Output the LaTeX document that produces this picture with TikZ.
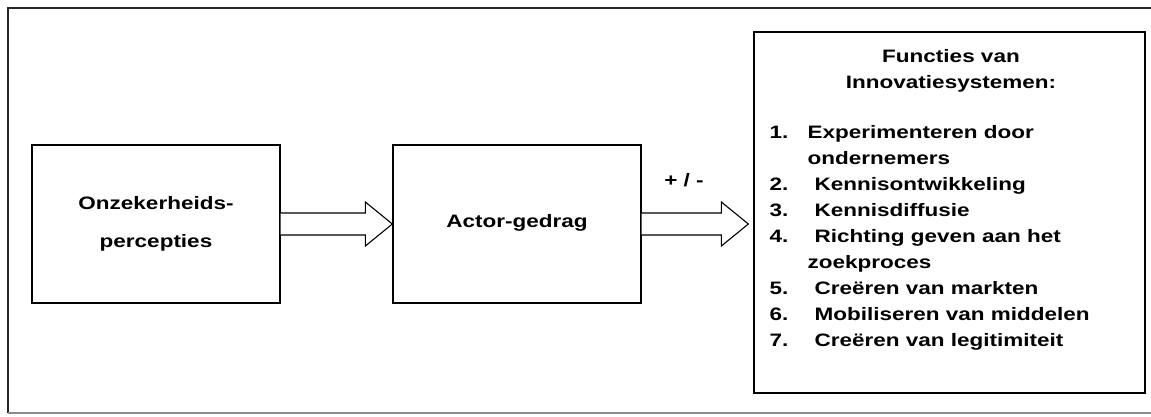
\documentclass[tikz,border=0pt]{standalone}
\usepackage{fontspec}
\setmainfont[FakeStretch=1.25]{Liberation Sans}
\usetikzlibrary{positioning,calc}
\definecolor{framegray}{HTML}{8C8C8C}

\begin{document}
\begin{tikzpicture}[
  x=1pt, y=-1pt,
  box/.style={
    draw, line width=1.3pt, inner sep=0pt,
    minimum width=248pt, minimum height=158pt,
    font=\bfseries\fontsize{18}{38}\selectfont, align=center
  },
  funcbox/.style={
    draw, line width=1.3pt, inner sep=0pt,
    minimum width=391pt, minimum height=361pt
  },
  hollow/.style={draw, line width=1.1pt, line join=miter, fill=white},
  lbl/.style={inner sep=0pt, font=\bfseries\fontsize{18}{26}\selectfont}
]

  \useasboundingbox (0,0) rectangle (1151,416);

  % ── Outer frame (right side runs off the page) ──
  \draw[line width=1.2pt, black!85] (1151,8) -- (8,8) -- (8,413);
  \draw[line width=1.2pt, framegray] (8,413) -- (1151,413);

  % ── Boxes ──
  \node[box] (b1) at (156,224) {Onzekerheids-\\percepties};
  \node[box, right=111.7pt of b1] (b2) {\raisebox{6pt}{Actor-gedrag}};
  \node[funcbox] (b3) at (949.5,212.5) {};

  % ── Contents of the functions box ──
  \node[lbl, anchor=base] (functitle) at ($(b3.north)+(1.5,31)$)
    {\begin{tabular}[t]{@{}c@{}}Functies van\\Innovatiesystemen:\end{tabular}};
  \node[lbl, anchor=base west] (funclist) at ($(b3.north west)+(16,107)$) {%
    \begin{tabular}[t]{@{}p{38pt}@{}l@{}}
      1. & Experimenteren door\\
         & ondernemers\\
      2. & \hspace{7pt}Kennisontwikkeling\\
      3. & \hspace{7pt}Kennisdiffusie\\
      4. & \hspace{7pt}Richting geven aan het\\
         & zoekproces\\
      5. & \hspace{7pt}Creëren van markten\\
      6. & \hspace{7pt}Mobiliseren van middelen\\
      7. & \hspace{7pt}Creëren van legitimiteit\\
    \end{tabular}};

  % ── Block arrows ──
  \draw[hollow] (b1.east) ++(0,-11) -- ($(b2.west)+(-27,-11)$) -- ++(0,-11)
    -- (b2.west) -- ++(-27,22) -- ++(0,-11) -- ($(b1.east)+(0,11)$);

  \coordinate (tip) at ($(b3.west |- b2.east)+(-5,0)$);
  \draw[hollow] (b2.east) ++(0,-11) -- ($(tip)+(-27,-11)$) -- ++(0,-11)
    -- (tip) -- ++(-27,22) -- ++(0,-11) -- ($(b2.east)+(0,11)$);

  \node[lbl, anchor=base] (sign) at (684,186) {+ / -};

\end{tikzpicture}
\end{document}
